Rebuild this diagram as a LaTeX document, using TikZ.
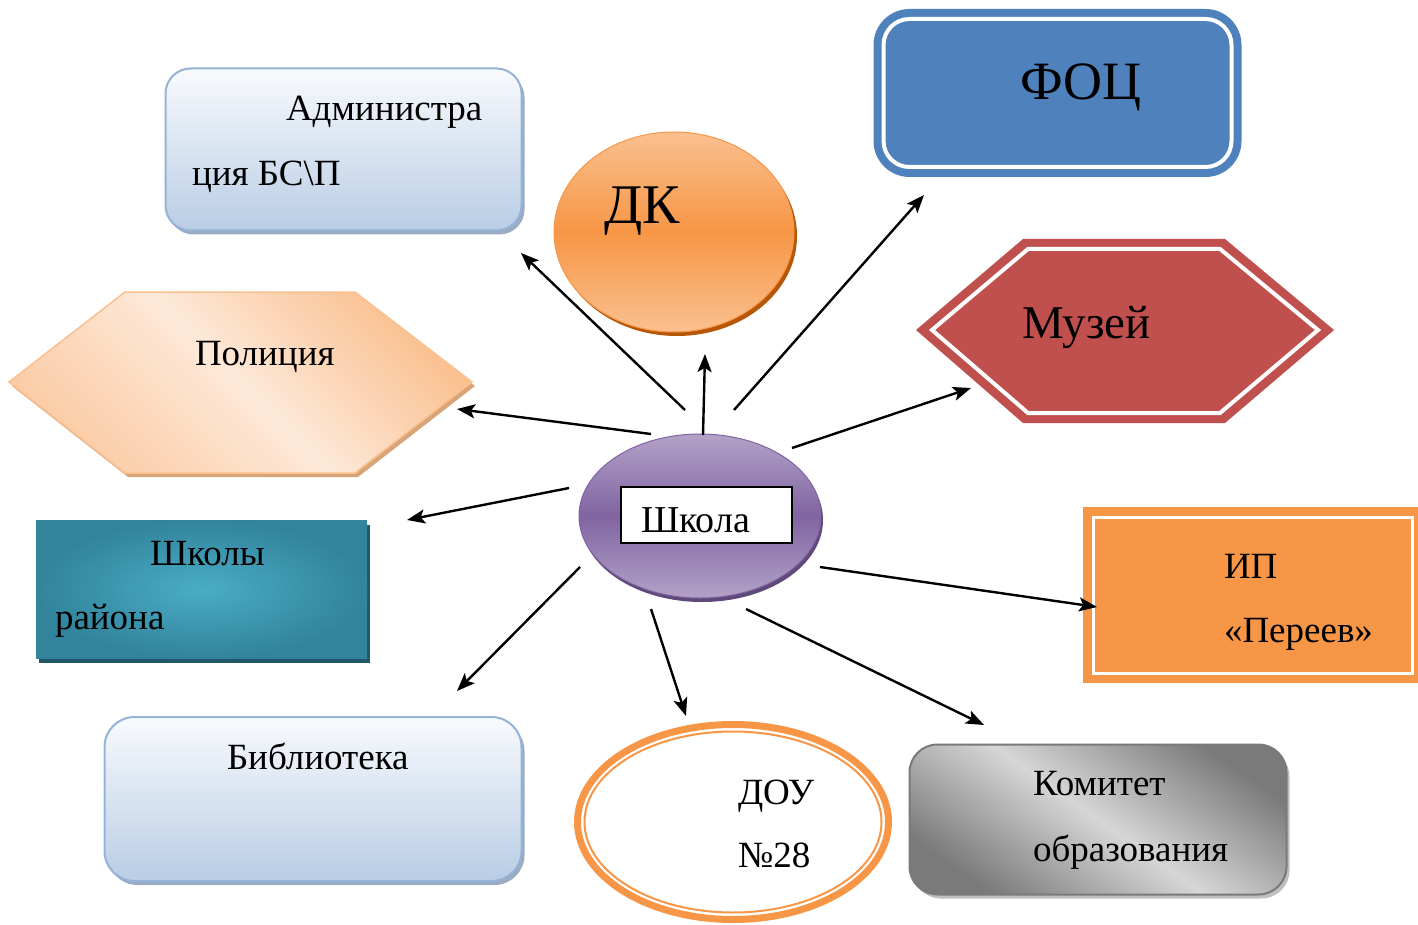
\documentclass[tikz,border=0pt]{standalone}
\usepackage{fontspec}
\setmainfont{Liberation Serif}
\usetikzlibrary{arrows.meta,shapes.geometric,shadings,shadows}
\definecolor{admTop}{HTML}{F8FAFD}
\definecolor{admBot}{HTML}{B9CDE5}
\definecolor{admLine}{HTML}{95B3D7}
\definecolor{admShadow}{HTML}{9AABC2}
\definecolor{dkMid}{HTML}{F79646}
\definecolor{dkLight}{HTML}{FAC08F}
\definecolor{dkShadow}{HTML}{B65708}
\definecolor{focBlue}{HTML}{4F81BD}
\definecolor{musRed}{HTML}{C0504D}
\definecolor{polLight}{HTML}{FDE9D9}
\definecolor{polDark}{HTML}{FAC090}
\definecolor{polLine}{HTML}{FAC08F}
\definecolor{polShadow}{HTML}{D9A578}
\definecolor{schMid}{HTML}{8064A2}
\definecolor{schLight}{HTML}{B3A2C7}
\definecolor{schShadow}{HTML}{5F497A}
\definecolor{tealLight}{HTML}{4BACC6}
\definecolor{tealDark}{HTML}{31849B}
\definecolor{tealShadow}{HTML}{215868}
\definecolor{ipOrange}{HTML}{F79646}
\definecolor{grayDark}{HTML}{7A7A7A}
\definecolor{grayLight}{HTML}{D6D6D6}
\definecolor{grayShadow}{HTML}{BFBFBF}
\newcommand\fsN{\fontsize{37}{44}\selectfont}
\tikzset{
  txt/.style={anchor=base west, inner sep=0pt, outer sep=0pt, font=\fsN},
  bluebox/.style={rectangle, draw=admLine, line width=2pt, top color=admTop, bottom color=admBot,
    drop shadow={shadow xshift=3pt, shadow yshift=-4pt, fill=admShadow, opacity=1}},
  arr/.style={line width=2.4pt, -{Stealth[length=18pt,width=14pt,inset=4pt]}},
}
\begin{document}
\begin{tikzpicture}[x=1pt,y=-1pt]
\useasboundingbox (0,0) rectangle (1418,925);

% Администрация
\node[bluebox, rounded corners=25pt, minimum width=356pt, minimum height=162pt] (adm) at (343.5,149.5) {};
\node[txt] (admT1) at (286,121) {Администра};
\node[txt] (admT2) at (192,186) {ция БС\textbackslash П};

% ДК
\node[ellipse, minimum width=240pt, minimum height=200pt, draw=dkMid, line width=1pt,
  top color=dkLight, bottom color=dkLight, middle color=dkMid,
  drop shadow={shadow xshift=3pt, shadow yshift=-4pt, fill=dkShadow, opacity=1}] (dk) at (674,232) {};
\node[txt, font=\fontsize{56}{60}\selectfont] (dkT) at (604,224) {ДК};

% ФОЦ
\node[rectangle, rounded corners=36pt, minimum width=368pt, minimum height=168pt, fill=focBlue] (foc) at (1057.5,93) {};
\node[rectangle, rounded corners=26pt, minimum width=348pt, minimum height=148pt, draw=white, line width=4pt] (focin) at (foc.center) {};
\node[txt, font=\fontsize{54}{60}\selectfont] (focT) at (1020,100) {ФОЦ};

% Музей
\fill[musRed] (916,330) -- (1023,239) -- (1225,239) -- (1334,330) -- (1225,423) -- (1023,423) -- cycle;
\draw[white, line width=4pt] (932,330) -- (1028,249) -- (1220,249) -- (1318,330) -- (1220,413) -- (1028,413) -- cycle;
\node[txt, font=\fontsize{47}{50}\selectfont] (musT) at (1022,338) {Музей};

% Полиция
\fill[polShadow] (12,386) -- (128,296) -- (358,296) -- (475,386) -- (358,477) -- (128,477) -- cycle;
\shade[top color=polDark, bottom color=polDark!70!polLight, middle color=polLight, shading angle=-45]
  (9,382) -- (125,292) -- (355,292) -- (472,382) -- (355,473) -- (125,473) -- cycle;
\draw[polLine, line width=1.5pt] (9,382) -- (125,292) -- (355,292) -- (472,382) -- (355,473) -- (125,473) -- cycle;
\node[txt] (polT) at (195,365) {Полиция};

% Школа
\node[ellipse, minimum width=242pt, minimum height=164pt, draw=schMid, line width=1pt,
  top color=schLight, bottom color=schLight, middle color=schMid,
  drop shadow={shadow xshift=2pt, shadow yshift=-4pt, fill=schShadow, opacity=1}] (sch) at (700,516) {};
\node[rectangle, draw=black, fill=white, line width=2pt, minimum width=171pt, minimum height=56pt] (schbox) at (706,514.5) {};
\node[txt, font=\fontsize{38}{44}\selectfont] (schT) at (641,532) {Школа};

% Школы района
\node[rectangle, minimum width=331pt, minimum height=138pt, inner color=tealLight, outer color=tealDark,
  drop shadow={shadow xshift=3pt, shadow yshift=-5pt, fill=tealShadow, opacity=1}] (shr) at (201.5,589) {};
\node[txt] (shrT1) at (150,565) {Школы};
\node[txt] (shrT2) at (55,629) {района};

% Библиотека
\node[bluebox, rounded corners=30pt, minimum width=417pt, minimum height=164pt] (bib) at (313,799) {};
\node[txt] (bibT) at (227,769) {Библиотека};

% ДОУ №28
\node[ellipse, draw=ipOrange, line width=7pt, minimum width=311pt, minimum height=195pt] (dou) at (733,822) {};
\node[ellipse, draw=ipOrange, line width=2pt, minimum width=297pt, minimum height=181pt] (douin) at (dou.center) {};
\node[txt] (douT1) at (738,804) {ДОУ};
\node[txt] (douT2) at (738,867) {№28};

% Комитет образования
\node[rectangle, rounded corners=28pt, minimum width=377pt, minimum height=150pt, draw=grayDark, line width=2pt,
  top color=grayDark, bottom color=grayDark, middle color=grayLight, shading angle=-35,
  drop shadow={shadow xshift=3pt, shadow yshift=-4pt, fill=grayShadow, opacity=1}] (kom) at (1098,819.5) {};
\node[txt] (komT1) at (1033,795) {Комитет};
\node[txt] (komT2) at (1033,861) {образования};

% ИП «Переев»
\node[rectangle, fill=ipOrange, minimum width=335pt, minimum height=176pt] (ip) at (1250.5,595) {};
\node[rectangle, draw=white, line width=3pt, minimum width=319pt, minimum height=156pt] (ipin) at (1252.5,595) {};
\node[txt] (ipT1) at (1224,578) {ИП};
\node[txt] (ipT2) at (1224,642) {«Переев»};

% connectors
\coordinate (a1s) at (685,410);  \coordinate (a1e) at (521,253);
\coordinate (a2s) at (703,435);  \coordinate (a2e) at (705,354);
\coordinate (a3s) at (734,410);  \coordinate (a3e) at (924,195);
\coordinate (a4s) at (792,448);  \coordinate (a4e) at (971,388);
\coordinate (a5s) at (651,434);  \coordinate (a5e) at (457,409);
\coordinate (a6s) at (569,488);  \coordinate (a6e) at (407,520);
\coordinate (a7s) at (580,567);  \coordinate (a7e) at (457,691);
\coordinate (a8s) at (651,609);  \coordinate (a8e) at (686,716);
\coordinate (a9s) at (746,609);  \coordinate (a9e) at (984,725);
\coordinate (a10s) at (820,567); \coordinate (a10e) at (1097,607);
\foreach \i in {1,...,10} { \draw[arr] (a\i s) -- (a\i e); }
\end{tikzpicture}
\end{document}
